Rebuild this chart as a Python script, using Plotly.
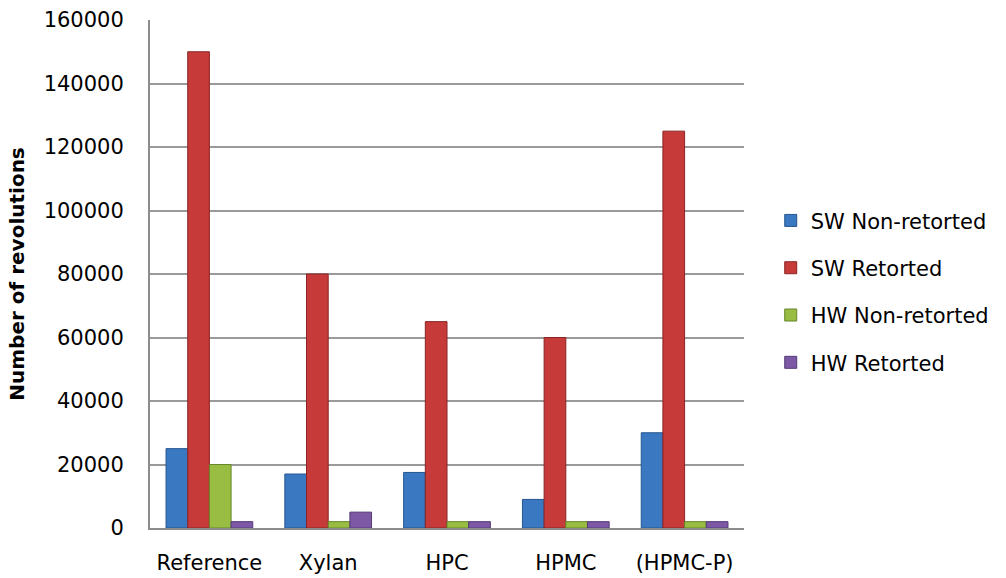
import plotly.graph_objects as go

categories = ["Reference", "Xylan", "HPC", "HPMC", "(HPMC-P)"]
sw_non_retorted = [25000, 17000, 17500, 9000, 30000]
sw_retorted = [150000, 80000, 65000, 60000, 125000]
hw_non_retorted = [20000, 2000, 2000, 2000, 2000]
hw_retorted = [2000, 5000, 2000, 2000, 2000]
y_ticks = [0, 20000, 40000, 60000, 80000, 100000, 120000, 140000, 160000]

series = [
    ("SW Non-retorted", sw_non_retorted, "#3A78C2", "#24568F"),
    ("SW Retorted", sw_retorted, "#C63A3A", "#8A2424"),
    ("HW Non-retorted", hw_non_retorted, "#98BD42", "#67862A"),
    ("HW Retorted", hw_retorted, "#7D58A4", "#553C78"),
]

font_family = "DejaVu Sans, Open Sans, sans-serif"

fig = go.Figure()
for name, vals, fill, edge in series:
    fig.add_trace(go.Bar(
        x=categories,
        y=vals,
        name=name,
        legendgroup=name,
        marker=dict(color=fill, line=dict(color=edge, width=1)),
    ))

fig.update_layout(
    width=1006,
    height=578,
    margin=dict(l=150, r=256, t=20, b=50),
    paper_bgcolor="white",
    plot_bgcolor="white",
    barmode="group",
    bargap=0.27,
    bargroupgap=0,
    font=dict(family=font_family, size=21, color="#000000"),
    showlegend=True,
    legend=dict(
        x=1.045, xanchor="left",
        y=0.465, yanchor="middle",
        font=dict(size=21, color="#000000"),
        traceorder="grouped",
        tracegroupgap=17,
        itemwidth=30,
        bgcolor="rgba(0,0,0,0)",
    ),
    xaxis=dict(
        automargin=False,
        showgrid=False,
        showline=True,
        linecolor="#8C8C8C",
        linewidth=2,
        ticks="",
        ticklabelstandoff=15,
        tickfont=dict(size=21),
    ),
    yaxis=dict(
        automargin=False,
        range=[0, 160000],
        tickvals=y_ticks,
        ticktext=[str(v) for v in y_ticks],
        showgrid=True,
        gridcolor="#9A9A9A",
        gridwidth=2,
        showline=True,
        linecolor="#8C8C8C",
        linewidth=2,
        zeroline=False,
        ticks="",
        ticklabelstandoff=20,
        tickfont=dict(size=21),
        title=dict(text="<b>Number of revolutions</b>", font=dict(size=20), standoff=14),
    ),
)

fig.write_html("out.html")
